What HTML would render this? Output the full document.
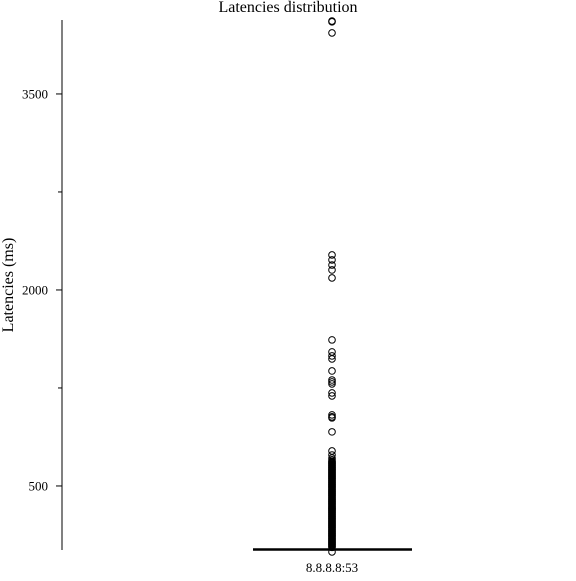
<!DOCTYPE html>
<html><head><meta charset="utf-8"><style>
html,body{margin:0;padding:0;background:#fff}
svg text{font-family:"Liberation Serif",serif;fill:#000}
</style></head><body>
<svg id="chart" width="576" height="576" viewBox="0 0 576 576">
<rect width="576" height="576" fill="#fff"/>
<text x="288" y="12" font-size="16" text-anchor="middle">Latencies distribution</text>
<text transform="translate(13,285) rotate(-90)" font-size="16" text-anchor="middle">Latencies (ms)</text>
<line x1="62" y1="20" x2="62" y2="550" stroke="#000" stroke-width="1"/>
<g id="ticks"></g>
<g id="box"></g>
<g id="outliers"></g>
<text x="332" y="572" font-size="13" text-anchor="middle">8.8.8.8:53</text>
</svg>
<script>
const majorTicks=[500,2000,3500];
const minorTicks=[1250,2750];
const categories=["8.8.8.8:53"];
const boxStats=[{q1:12,median:14,q3:16,lo:0,hi:40}];
const outlierValues=[4058,4052,3967,2268,2230,2191,2153,2092,1618,1526,1495,1472,1380,1311,1296,1281,1212,1189,1044,1029,1021,914,768,737,714,700,690,685,680,675,670,665,660,655,650,645,640,635,630,625,620,615,610,605,600,595,590,585,580,575,570,565,560,555,550,545,540,535,530,525,520,515,510,505,500,495,490,485,480,475,470,465,460,455,450,445,440,435,430,425,420,415,410,405,400,395,390,385,380,375,370,365,360,355,350,345,340,335,330,325,320,315,310,305,300,295,290,285,280,275,270,265,260,255,250,245,240,235,230,225,220,215,210,205,200,195,190,185,180,175,170,165,160,155,150,145,140,135,130,125,120,115,110,105,100,95,90,85,80,75,70,65,60,55,50,45,40,35,30,-5];
const NS="http://www.w3.org/2000/svg";
function y(v){return 551.3-v*0.13067;}
function x(i){return 332+i*0;}
function mk(t,a,p){const e=document.createElementNS(NS,t);for(const k in a)e.setAttribute(k,a[k]);p.appendChild(e);return e;}
const tg=document.getElementById('ticks');
majorTicks.forEach(v=>{
  const l=mk('line',{x1:56,x2:62,y1:y(v),y2:y(v),stroke:'#000'},tg);
  
  
  const t=mk('text',{x:48,y:y(v)+4.5,'font-size':13,'text-anchor':'end'},tg);
  t.textContent=v;
  
  
});
minorTicks.forEach(v=>{
  const l=mk('line',{x1:58,x2:62,y1:y(v),y2:y(v),stroke:'#000'},tg);
  
  
});
const bg=document.getElementById('box');
boxStats.forEach((s,i)=>{
  const w=mk('line',{x1:272,x2:392,y1:y(s.q3),y2:y(s.q3),stroke:'#000','stroke-dasharray':'4,2','stroke-width':1.5},bg);
  
  
  const m=mk('line',{x1:253,x2:412,y1:y(s.median),y2:y(s.median),stroke:'#000','stroke-width':2.5},bg);
  
  
});
const og=document.getElementById('outliers');
outlierValues.forEach(v=>{
  const c=mk('circle',{cx:x(0),cy:y(v),r:3.3,fill:'none',stroke:'#000','stroke-width':1},og);
  
  
});
</script>
</body></html>
